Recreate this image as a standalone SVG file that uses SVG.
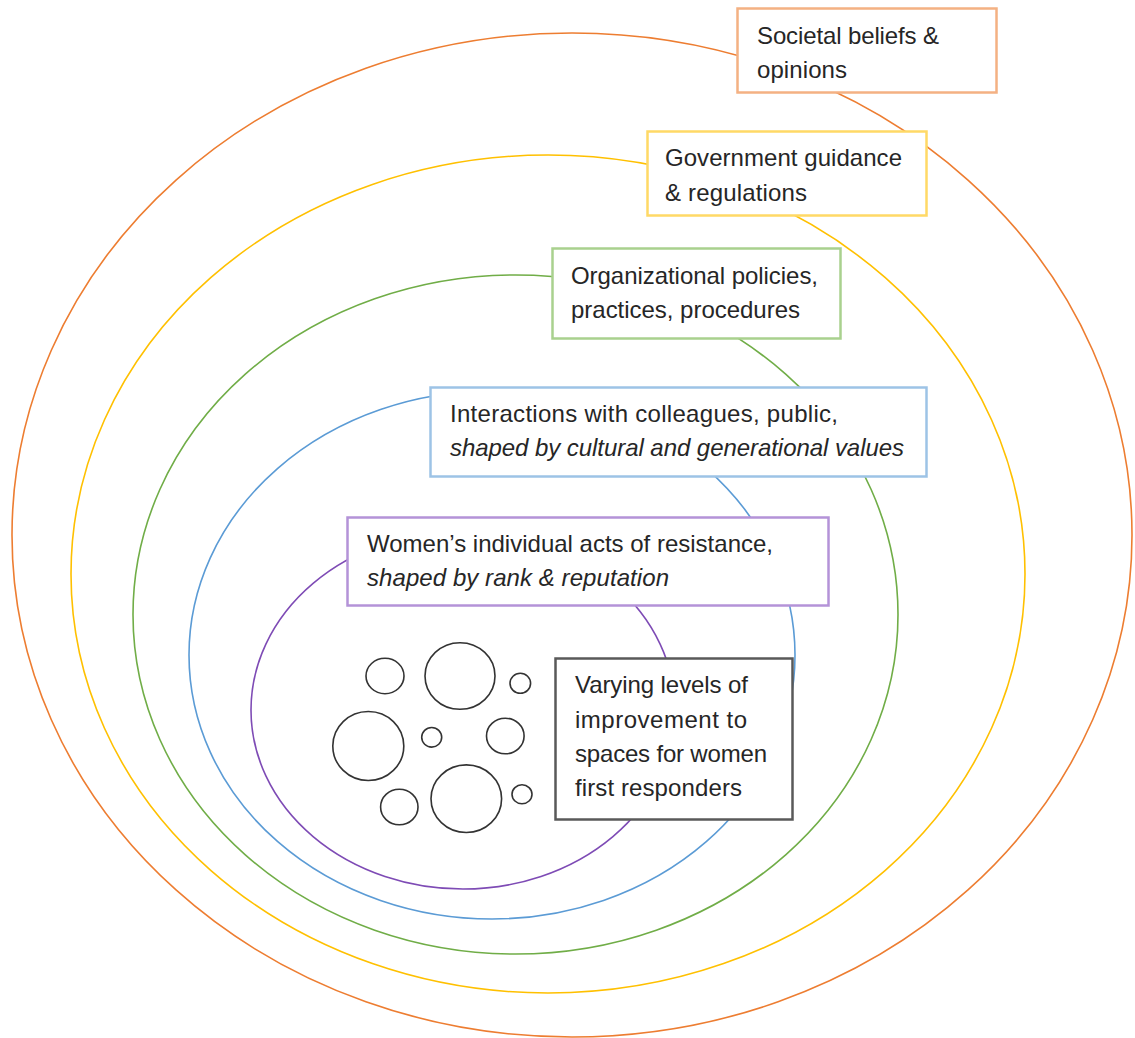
<svg xmlns="http://www.w3.org/2000/svg" width="1135" height="1038" viewBox="0 0 1135 1038">
<style>
.ring{fill:none;stroke-width:1.6}
.box{fill:#ffffff;stroke-width:2.5}
.t{font-family:"Liberation Sans",Arial,sans-serif;font-size:24px;fill:#262626}
.i{font-style:italic}
.dot{fill:none;stroke:#333333;stroke-width:1.6}
</style>
<rect width="1135" height="1038" fill="#ffffff"/>
<g id="rings">
<ellipse class="ring" cx="572" cy="535" rx="560" ry="502" stroke="#ED7D31"/>
<ellipse class="ring" cx="548" cy="574" rx="477" ry="419" stroke="#FFC000"/>
<ellipse class="ring" cx="515.5" cy="614.5" rx="382.5" ry="339.5" stroke="#70AD47"/>
<ellipse class="ring" cx="492" cy="655" rx="303" ry="264" stroke="#5B9BD5"/>
<ellipse class="ring" cx="463" cy="710" rx="212" ry="179" stroke="#7E4BB5"/>
</g>
<g id="societal">
<rect class="box" x="737.5" y="8.5" width="259" height="84" stroke="#F4B183"/>
<text class="t" x="757" y="44" textLength="182" lengthAdjust="spacing">Societal beliefs &amp;</text>
<text class="t" x="757" y="78" textLength="90" lengthAdjust="spacing">opinions</text>
</g>
<g id="government">
<rect class="box" x="647.5" y="131.5" width="279" height="84" stroke="#FFD966"/>
<text class="t" x="665" y="166" textLength="237" lengthAdjust="spacing">Government guidance</text>
<text class="t" x="665" y="201" textLength="142" lengthAdjust="spacing">&amp; regulations</text>
</g>
<g id="organizational">
<rect class="box" x="552.5" y="248.5" width="288" height="90" stroke="#A9D18E"/>
<text class="t" x="571" y="284" textLength="247" lengthAdjust="spacing">Organizational policies,</text>
<text class="t" x="571" y="318" textLength="229" lengthAdjust="spacing">practices, procedures</text>
</g>
<g id="interactions">
<rect class="box" x="430.5" y="387.5" width="496" height="89" stroke="#9DC3E6"/>
<text class="t" x="450" y="422" textLength="388" lengthAdjust="spacing">Interactions with colleagues, public,</text>
<text class="t i" x="450" y="456" textLength="454" lengthAdjust="spacing">shaped by cultural and generational values</text>
</g>
<g id="women">
<rect class="box" x="347.5" y="517.5" width="481" height="88" stroke="#B493D8"/>
<text class="t" x="367" y="552" textLength="406" lengthAdjust="spacing">Women’s individual acts of resistance,</text>
<text class="t i" x="367" y="586" textLength="302" lengthAdjust="spacing">shaped by rank &amp; reputation</text>
</g>
<g id="varying">
<rect class="box" x="555.5" y="658.5" width="237" height="161" stroke="#595959" stroke-width="2.8"/>
<text class="t" x="575" y="693" textLength="173" lengthAdjust="spacing">Varying levels of</text>
<text class="t" x="575" y="728" textLength="172" lengthAdjust="spacing">improvement to</text>
<text class="t" x="575" y="762" textLength="192" lengthAdjust="spacing">spaces for women</text>
<text class="t" x="575" y="796" textLength="167" lengthAdjust="spacing">first responders</text>
</g>
<g id="spaces">
<ellipse class="dot" cx="385" cy="676" rx="19" ry="17.7"/>
<ellipse class="dot" cx="460" cy="676" rx="35" ry="33.3"/>
<ellipse class="dot" cx="520.3" cy="683.3" rx="10.3" ry="10"/>
<ellipse class="dot" cx="368.3" cy="746" rx="35.5" ry="34.5"/>
<ellipse class="dot" cx="431.7" cy="737.3" rx="10" ry="9.8"/>
<ellipse class="dot" cx="505.3" cy="736" rx="18.8" ry="17.8"/>
<ellipse class="dot" cx="399.3" cy="807" rx="18.7" ry="17.8"/>
<ellipse class="dot" cx="466.3" cy="798.7" rx="35.3" ry="33.8"/>
<ellipse class="dot" cx="522" cy="794.3" rx="10" ry="9.5"/>
</g>
<g id="connectors"></g>
</svg>
